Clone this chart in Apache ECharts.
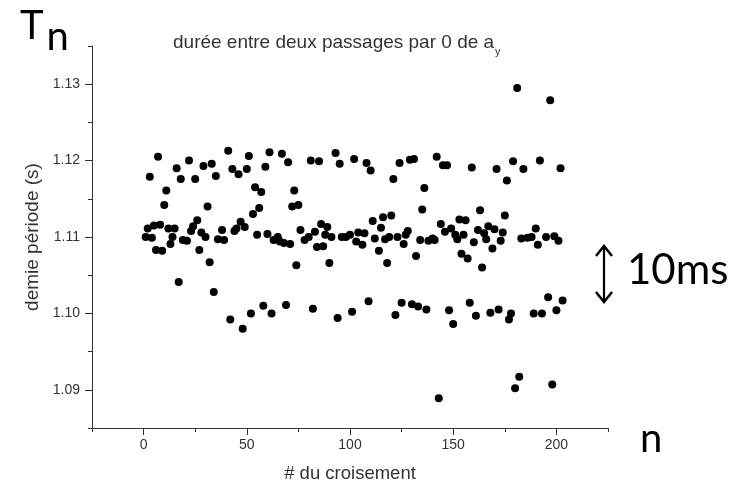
<!DOCTYPE html>
<html>
<head>
<meta charset="utf-8">
<script src="https://cdn.jsdelivr.net/npm/echarts@6/dist/echarts.min.js"></script>
<style>
  html, body { margin: 0; padding: 0; background: #fff; }
  #chart { width: 750px; height: 489px; }
</style>
</head>
<body>
<div id="chart"></div>
<script>
// Crossing index n and the measured half period T_n (s)
const crossing = [
  1, 2, 3, 4, 5, 6, 7, 8, 9, 10, 11, 12, 13, 14, 15, 16, 17, 18, 19, 21,
  22, 23, 24, 25, 26, 27, 28, 29, 30, 31, 32, 33, 34, 35, 36, 38, 39, 41, 42, 43,
  44, 45, 46, 47, 48, 49, 50, 51, 52, 53, 54, 55, 56, 57, 58, 59, 60, 61, 62, 63,
  65, 66, 67, 68, 69, 70, 71, 72, 73, 74, 75, 76, 78, 80, 81, 82, 83, 84, 85, 86,
  87, 88, 89, 90, 91, 93, 94, 95, 96, 98, 100, 101, 102, 103, 104, 106, 107, 108, 109, 110,
  111, 112, 114, 115, 116, 117, 118, 119, 120, 121, 122, 123, 124, 125, 126, 127, 128, 129, 130, 131,
  132, 133, 134, 135, 136, 137, 138, 140, 141, 142, 143, 144, 145, 146, 147, 148, 149, 150, 151, 152,
  153, 154, 155, 156, 157, 158, 159, 160, 161, 162, 163, 164, 165, 166, 167, 168, 169, 170, 171, 172,
  173, 174, 175, 176, 177, 178, 179, 180, 181, 182, 183, 184, 186, 188, 189, 190, 191, 192, 193, 195,
  196, 197, 198, 199, 200, 201, 202, 203
];
const halfPeriod = [
  1.1100, 1.1111, 1.1179, 1.1099, 1.1115, 1.1083, 1.1205, 1.1116, 1.1082, 1.1142, 1.1161, 1.1111, 1.1091, 1.1100, 1.1111, 1.1190, 1.1041, 1.1176, 1.1096, 1.1095,
  1.1200, 1.1108, 1.1114, 1.1176, 1.1122, 1.1083, 1.1106, 1.1193, 1.1100, 1.1140, 1.1067, 1.1196, 1.1028, 1.1180, 1.1097, 1.1109, 1.1096, 1.1213, 1.0992, 1.1189,
  1.1108, 1.1111, 1.1182, 1.1120, 1.0980, 1.1113, 1.1189, 1.1206, 1.1000, 1.1130, 1.1165, 1.1103, 1.1138, 1.1159, 1.1010, 1.1192, 1.1104, 1.1211, 1.1000, 1.1096,
  1.1100, 1.1094, 1.1209, 1.1092, 1.1011, 1.1198, 1.1091, 1.1140, 1.1161, 1.1063, 1.1142, 1.1109, 1.1096, 1.1100, 1.1200, 1.1006, 1.1107, 1.1087, 1.1199, 1.1117,
  1.1088, 1.1103, 1.1113, 1.1066, 1.1100, 1.1210, 1.0994, 1.1196, 1.1100, 1.1100, 1.1103, 1.1002, 1.1202, 1.1094, 1.1106, 1.1090, 1.1105, 1.1197, 1.1016, 1.1187,
  1.1121, 1.1098, 1.1082, 1.1112, 1.1126, 1.1097, 1.1066, 1.1100, 1.1128, 1.1176, 1.0998, 1.1100, 1.1197, 1.1014, 1.1091, 1.1103, 1.1108, 1.1201, 1.1012, 1.1202,
  1.1075, 1.1009, 1.1096, 1.1136, 1.1164, 1.1005, 1.1095, 1.1098, 1.1096, 1.1205, 1.0889, 1.1117, 1.1194, 1.1107, 1.1194, 1.1004, 1.1111, 1.0986, 1.1103, 1.1097,
  1.1123, 1.1078, 1.1103, 1.1122, 1.1072, 1.1014, 1.1191, 1.1093, 1.0997, 1.1109, 1.1135, 1.1060, 1.1105, 1.1097, 1.1114, 1.1001, 1.1085, 1.1110, 1.1189, 1.1005,
  1.1095, 1.1106, 1.1128, 1.1174, 1.0992, 1.1000, 1.1199, 1.0902, 1.1295, 1.0917, 1.1098, 1.1189, 1.1099, 1.1100, 1.1000, 1.1111, 1.1090, 1.1200, 1.1000, 1.1100,
  1.1021, 1.1279, 1.0907, 1.1101, 1.1004, 1.1095, 1.1190, 1.1017
];

// Tick positions
const xMajorTicks = [0, 50, 100, 150, 200];
const yMajorTicks = [1.09, 1.10, 1.11, 1.12, 1.13];

const points = crossing.map((n, i) => [n, halfPeriod[i]]);

const axisColor = '#333';
const labelFont = '"Liberation Sans", Arial, sans-serif';
const slideFont = 'Lato, "Open Sans", sans-serif';

function textWidth(str, font) {
  const ctx = document.createElement('canvas').getContext('2d');
  ctx.font = font;
  return ctx.measureText(str).width;
}

const titleMain = 'durée entre deux passages par 0 de a';
const titleSize = 19;
const titleX = 173;
const titleTop = 33;
const titleW = textWidth(titleMain, titleSize + 'px "Liberation Sans"');

const tSize = 40;
const tW = textWidth('T', tSize + 'px Lato');

const chart = echarts.init(document.getElementById('chart'), null, { renderer: 'canvas' });

chart.setOption({
  animation: false,
  backgroundColor: '#fff',
  grid: { left: 92, right: 142, top: 46, bottom: 61 },
  xAxis: [
    {
      type: 'value', min: -25, max: 225, interval: 25, position: 'bottom',
      axisLine: { show: true, onZero: false, lineStyle: { color: axisColor, width: 1 } },
      axisTick: { show: true, inside: false, length: 4, lineStyle: { color: axisColor } },
      axisLabel: {
        show: true, margin: 10, color: axisColor, fontSize: 14, fontFamily: labelFont,
        formatter: v => (Math.round(v) % 50 === 0 ? String(Math.round(v)) : '')
      },
      splitLine: { show: false },
      name: '# du croisement', nameLocation: 'middle', nameGap: 36,
      nameTextStyle: { fontSize: 18.5, color: axisColor, fontFamily: labelFont }
    },
    {
      type: 'value', min: -25, max: 225, position: 'bottom',
      axisLine: { show: false, onZero: false },
      axisTick: { show: true, inside: false, length: 7, customValues: xMajorTicks, lineStyle: { color: axisColor } },
      axisLabel: { show: false },
      splitLine: { show: false }
    }
  ],
  yAxis: [
    {
      type: 'value', min: 1.085, max: 1.135, interval: 0.005, position: 'left',
      axisLine: { show: true, onZero: false, lineStyle: { color: axisColor, width: 1 } },
      axisTick: { show: true, inside: false, length: 4, lineStyle: { color: axisColor } },
      axisLabel: {
        show: true, margin: 12, color: axisColor, fontSize: 14, fontFamily: labelFont,
        formatter: v => {
          const r = Math.round(v * 1000);
          return r % 10 === 0 ? (r / 1000).toFixed(2) : '';
        }
      },
      splitLine: { show: false },
      name: 'demie période (s)', nameLocation: 'middle', nameGap: 50, nameRotate: 90,
      nameTextStyle: { fontSize: 19, color: axisColor, fontFamily: labelFont }
    },
    {
      type: 'value', min: 1.085, max: 1.135, position: 'left',
      axisLine: { show: false, onZero: false },
      axisTick: { show: true, inside: false, length: 7, customValues: yMajorTicks, lineStyle: { color: axisColor } },
      axisLabel: { show: false },
      splitLine: { show: false }
    }
  ],
  series: [
    {
      type: 'scatter',
      xAxisIndex: 0, yAxisIndex: 0,
      data: points,
      symbol: 'circle',
      symbolSize: 8,
      itemStyle: { color: '#000', opacity: 1 },
      emphasis: { disabled: true }
    }
  ],
  graphic: [
    // plot title with subscript
    { type: 'text', left: titleX, top: titleTop,
      style: { text: titleMain, fontSize: titleSize, fontFamily: labelFont, fill: axisColor } },
    { type: 'text', left: titleX + titleW + 1, top: titleTop + 13,
      style: { text: 'y', fontSize: 11, fontFamily: labelFont, fill: axisColor } },
    // T_n
    { type: 'text', left: 20, top: 6,
      style: { text: 'T', fontSize: tSize, fontFamily: slideFont, fill: '#000' } },
    { type: 'text', left: 23 + tW, top: 17,
      style: { text: 'n', fontSize: tSize, fontFamily: slideFont, fill: '#000' } },
    // n on the horizontal axis
    { type: 'text', left: 640, top: 419,
      style: { text: 'n', fontSize: 40, fontFamily: slideFont, fill: '#000' } },
    // 10 ms scale mark
    { type: 'line', shape: { x1: 604, y1: 246, x2: 604, y2: 302 },
      style: { stroke: '#000', lineWidth: 2.2 } },
    { type: 'polyline', shape: { points: [[596, 256], [604, 246], [612, 256]] },
      style: { stroke: '#000', lineWidth: 2.5, fill: null } },
    { type: 'polyline', shape: { points: [[596, 292], [604, 302], [612, 292]] },
      style: { stroke: '#000', lineWidth: 2.5, fill: null } },
    { type: 'text', left: 627, top: 249,
      style: { text: '10ms', fontSize: 42, fontFamily: slideFont, fill: '#000' } }
  ]
});
</script>
</body>
</html>
